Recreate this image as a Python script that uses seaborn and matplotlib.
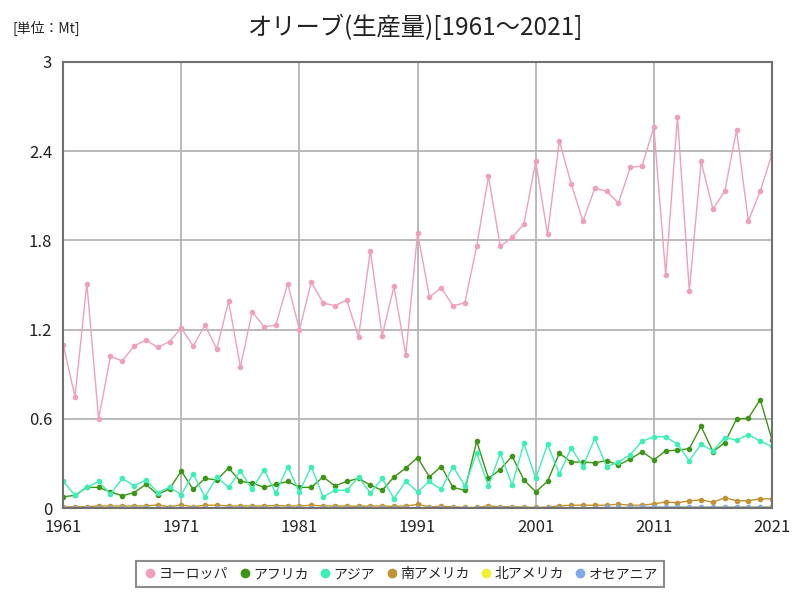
import numpy as np
import pandas as pd
import matplotlib
matplotlib.use("Agg")
import matplotlib.pyplot as plt
import seaborn as sns
from matplotlib.lines import Line2D

years = list(range(1961, 2022))

europe = [1.10, 0.75, 1.51, 0.60, 1.02, 0.99, 1.09, 1.13, 1.08, 1.12,
          1.21, 1.09, 1.23, 1.07, 1.39, 0.95, 1.32, 1.22, 1.23, 1.51,
          1.20, 1.52, 1.38, 1.36, 1.40, 1.15, 1.73, 1.16, 1.49, 1.03,
          1.85, 1.42, 1.48, 1.36, 1.38, 1.76, 2.23, 1.76, 1.82, 1.91,
          2.33, 1.84, 2.47, 2.18, 1.93, 2.15, 2.13, 2.05, 2.29, 2.30,
          2.56, 1.57, 2.63, 1.46, 2.33, 2.01, 2.13, 2.54, 1.93, 2.13,
          2.38]
africa = [0.076, 0.087, 0.14, 0.14, 0.11, 0.083, 0.105, 0.16, 0.092, 0.13,
          0.25, 0.126, 0.20, 0.19, 0.27, 0.18, 0.17, 0.14, 0.16, 0.18,
          0.14, 0.14, 0.21, 0.15, 0.18, 0.20, 0.155, 0.12, 0.21, 0.27,
          0.34, 0.21, 0.28, 0.14, 0.12, 0.45, 0.20, 0.26, 0.35, 0.19,
          0.11, 0.18, 0.37, 0.31, 0.31, 0.305, 0.32, 0.29, 0.33, 0.38,
          0.325, 0.385, 0.39, 0.40, 0.55, 0.38, 0.44, 0.60, 0.605, 0.73,
          0.46]
asia = [0.18, 0.087, 0.14, 0.18, 0.094, 0.20, 0.15, 0.19, 0.105, 0.14,
        0.092, 0.23, 0.076, 0.21, 0.14, 0.25, 0.126, 0.26, 0.10, 0.28,
        0.11, 0.28, 0.076, 0.12, 0.12, 0.21, 0.10, 0.20, 0.065, 0.18,
        0.11, 0.18, 0.126, 0.28, 0.15, 0.37, 0.15, 0.37, 0.155, 0.435,
        0.20, 0.43, 0.23, 0.405, 0.28, 0.47, 0.28, 0.31, 0.36, 0.45,
        0.48, 0.48, 0.43, 0.32, 0.43, 0.385, 0.475, 0.457, 0.495, 0.45,
        0.415]
s_america = [0.008, 0.010, 0.010, 0.015, 0.015, 0.015, 0.015, 0.015, 0.022, 0.010,
             0.022, 0.010, 0.020, 0.020, 0.015, 0.015, 0.015, 0.015, 0.018, 0.015,
             0.015, 0.020, 0.015, 0.015, 0.015, 0.012, 0.015, 0.015, 0.012, 0.015,
             0.025, 0.010, 0.012, 0.010, 0.005, 0.005, 0.015, 0.010, 0.010, 0.008,
             0.005, 0.008, 0.015, 0.020, 0.020, 0.020, 0.020, 0.027, 0.020, 0.020,
             0.029, 0.043, 0.036, 0.050, 0.056, 0.040, 0.070, 0.050, 0.050, 0.063,
             0.063]
n_america = [0.002, 0.002, 0.002, 0.002, 0.002, 0.002, 0.002, 0.002, 0.002, 0.002,
             0.002, 0.002, 0.002, 0.002, 0.002, 0.002, 0.002, 0.002, 0.002, 0.002,
             0.002, 0.002, 0.002, 0.002, 0.002, 0.002, 0.002, 0.002, 0.002, 0.002,
             0.002, 0.002, 0.002, 0.002, 0.002, 0.002, 0.002, 0.002, 0.002, 0.002,
             0.002, 0.002, 0.003, 0.003, 0.003, 0.003, 0.003, 0.004, 0.004, 0.005,
             0.006, 0.007, 0.008, 0.008, 0.009, 0.009, 0.010, 0.010, 0.010, 0.010,
             0.012]
oceania = [0.000, 0.000, 0.000, 0.000, 0.000, 0.000, 0.000, 0.000, 0.000, 0.000,
           0.000, 0.000, 0.000, 0.000, 0.000, 0.000, 0.000, 0.000, 0.000, 0.000,
           0.000, 0.000, 0.000, 0.000, 0.000, 0.000, 0.000, 0.000, 0.000, 0.000,
           0.000, 0.000, 0.000, 0.000, 0.000, 0.000, 0.000, 0.000, 0.001, 0.001,
           0.001, 0.002, 0.002, 0.003, 0.003, 0.004, 0.005, 0.005, 0.006, 0.007,
           0.008, 0.007, 0.008, 0.007, 0.007, 0.007, 0.008, 0.007, 0.007, 0.007,
           0.007]

regions = ["ヨーロッパ", "アフリカ", "アジア", "南アメリカ", "北アメリカ", "オセアニア"]
colors = ["#f0a0ba", "#3a9614", "#3cf0b4", "#c39032", "#f0f030", "#7faaea"]

series = [europe, africa, asia, s_america, n_america, oceania]
df = pd.concat([pd.DataFrame({"year": years, "value": v, "region": r})
                for r, v in zip(regions, series)], ignore_index=True)

sns.set_theme(style="white")
plt.rcParams['font.family'] = ['Noto Sans CJK JP', 'DejaVu Sans']

fig = plt.figure(figsize=(8, 6), dpi=100)
ax = fig.add_axes([0.079, 0.153, 0.886, 0.744])

sns.lineplot(data=df, x="year", y="value", hue="region", hue_order=regions,
             palette=dict(zip(regions, colors)), marker="o", markersize=4,
             markeredgewidth=0, linewidth=1, ax=ax, legend=False)

ax.set_xlim(1961, 2021)
ax.set_ylim(0, 3)
ax.set_xticks(list(range(1961, 2022, 10)))
ax.set_yticks([0, 0.6, 1.2, 1.8, 2.4, 3])
ax.set_yticklabels(["0", "0.6", "1.2", "1.8", "2.4", "3"])
ax.tick_params(axis="both", labelsize=12, length=0, pad=8, colors="#222222")
ax.grid(True, color="#b4b4b4", linewidth=1.3)
ax.set_axisbelow(True)
for s in ax.spines.values():
    s.set_color("#707070")
    s.set_linewidth(1.5)
    s.set_zorder(3)
ax.set_xlabel("")
ax.set_ylabel("")

fig.text(0.52, 0.953, "オリーブ(生産量)[1961～2021]", ha="center", va="center",
         fontsize=17.5, color="#222222")
fig.text(0.015, 0.953, "[単位：Mt]", ha="left", va="center", fontsize=10,
         color="#222222")

handles = [Line2D([], [], marker="o", linestyle="none", markersize=7,
                  markerfacecolor=c, markeredgewidth=0) for c in colors]
leg = fig.legend(handles, regions, loc="center", bbox_to_anchor=(0.5, 0.043),
                 ncol=6, frameon=True, fontsize=10, handletextpad=0.0,
                 columnspacing=0.6, borderpad=0.45, handlelength=1.2,
                 fancybox=False)
leg.get_frame().set_edgecolor("#707070")
leg.get_frame().set_linewidth(1.5)

fig.savefig("out.png", dpi=100, facecolor="white")
